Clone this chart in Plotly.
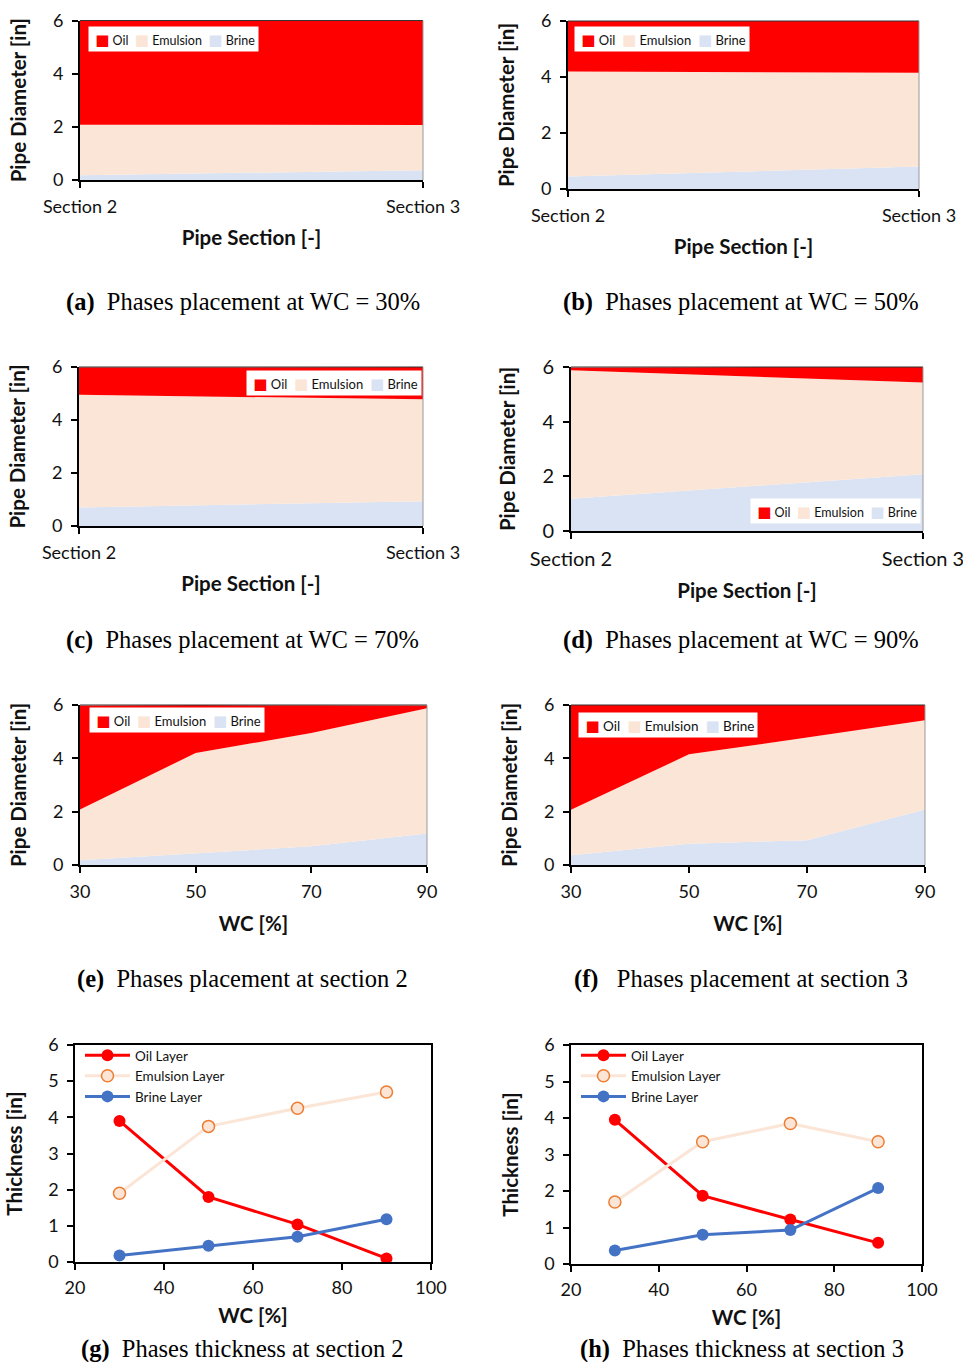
import plotly.graph_objects as go

W, H = 963, 1362

SECTIONS = ["Section 2", "Section 3"]
WC = [30, 50, 70, 90]

# Layer thickness [in] against water cut, at pipe section 2
OIL_S2 = [3.90, 1.80, 1.04, 0.10]
EMUL_S2 = [1.90, 3.75, 4.25, 4.70]
BRINE_S2 = [0.18, 0.45, 0.70, 1.18]

# Layer thickness [in] against water cut, at pipe section 3
OIL_S3 = [3.95, 1.87, 1.22, 0.58]
EMUL_S3 = [1.70, 3.35, 3.85, 3.35]
BRINE_S3 = [0.37, 0.80, 0.93, 2.08]

C_OIL = "#FF0000"
C_EMUL = "#FBE5D6"
C_BRINE = "#DAE3F3"
C_EMUL_EDGE = "#ED7D31"
C_BRINE_LINE = "#4472C4"
INK = "#111111"

SANS = "Lato, 'DejaVu Sans', sans-serif"
SERIF = "'Liberation Serif', 'Times New Roman', serif"

# plot areas in pixels: left, right, top, bottom
BOXES = [
    (80, 423, 20.5, 180),
    (568, 919, 21, 189),
    (79, 423, 367, 526),
    (571, 923, 367, 531),
    (80, 427, 705, 865),
    (571, 925, 705, 865),
    (75, 431, 1045, 1262),
    (571, 922, 1045, 1264),
]
TICK_SIZES = [18, 18, 18, 20, 18, 18, 18, 18]

# stacked-area legend boxes: left px, top px, font size
AREA_LEGENDS = [
    (88, 26, 12.5),
    (574, 26, 13),
    (246, 370, 13),
    (750, 498, 12.5),
    (89, 707, 13),
    (578, 712, 13.5),
]

CAPTIONS = [
    ("(a)", "Phases placement at WC = 30%", 243, 302),
    ("(b)", "Phases placement at WC = 50%", 741, 302),
    ("(c)", "Phases placement at WC = 70%", 243, 640),
    ("(d)", "Phases placement at WC = 90%", 741, 640),
    ("(e)", "Phases placement at section 2", 243, 979),
    ("(f)", "\u00a0Phases placement at section 3", 741, 979),
    ("(g)", "Phases thickness at section 2", 243, 1349),
    ("(h)", "Phases thickness at section 3", 742, 1349),
]

fig = go.Figure()
layout = dict(
    width=W, height=H,
    margin=dict(l=0, r=0, t=0, b=0, autoexpand=False),
    paper_bgcolor="white", plot_bgcolor="white",
    font=dict(family=SANS, color=INK),
    annotations=[], shapes=[],
)


def ax_names(k):
    sfx = "" if k == 1 else str(k)
    return "x" + sfx, "y" + sfx, "xaxis" + sfx, "yaxis" + sfx


def add_stack(k, x, brine, emul, oil):
    xa, ya, _, _ = ax_names(k)
    for name, vals, color in (("Brine", brine, C_BRINE),
                              ("Emulsion", emul, C_EMUL),
                              ("Oil", oil, C_OIL)):
        fig.add_trace(go.Scatter(
            x=x, y=vals, name=name, mode="lines",
            line=dict(width=0, color=color), fillcolor=color,
            stackgroup=f"s{k}", xaxis=xa, yaxis=ya,
            showlegend=False, hoverinfo="skip",
        ))


# (a)-(d): layers along the pipe for each water cut
for i in range(4):
    add_stack(i + 1, SECTIONS,
              [BRINE_S2[i], BRINE_S3[i]],
              [EMUL_S2[i], EMUL_S3[i]],
              [OIL_S2[i], OIL_S3[i]])

# (e)-(f): layers against water cut at each section
add_stack(5, WC, BRINE_S2, EMUL_S2, OIL_S2)
add_stack(6, WC, BRINE_S3, EMUL_S3, OIL_S3)

# (g)-(h): layer thickness lines
for k, legend_id, oil, emul, brine in ((7, "legend", OIL_S2, EMUL_S2, BRINE_S2),
                                       (8, "legend2", OIL_S3, EMUL_S3, BRINE_S3)):
    xa, ya, _, _ = ax_names(k)
    fig.add_trace(go.Scatter(
        x=WC, y=oil, name="Oil Layer", mode="lines+markers",
        line=dict(color=C_OIL, width=3),
        marker=dict(size=12, color=C_OIL),
        xaxis=xa, yaxis=ya, legend=legend_id))
    fig.add_trace(go.Scatter(
        x=WC, y=emul, name="Emulsion Layer", mode="lines+markers",
        line=dict(color=C_EMUL, width=3),
        marker=dict(size=12, color=C_EMUL, line=dict(color=C_EMUL_EDGE, width=1.5)),
        xaxis=xa, yaxis=ya, legend=legend_id))
    fig.add_trace(go.Scatter(
        x=WC, y=brine, name="Brine Layer", mode="lines+markers",
        line=dict(color=C_BRINE_LINE, width=3),
        marker=dict(size=12, color=C_BRINE_LINE),
        xaxis=xa, yaxis=ya, legend=legend_id))

title_font = dict(family=SANS, size=20.5, color=INK)

for k, (x0, x1, y0, y1) in enumerate(BOXES, start=1):
    xa, ya, xkey, ykey = ax_names(k)
    tick_font = dict(family=SANS, size=TICK_SIZES[k - 1], color=INK)
    xdef = dict(
        domain=[x0 / W, x1 / W], anchor=ya, automargin=False,
        showline=True, linecolor="black", linewidth=2,
        ticks="outside", ticklen=6, tickwidth=1.5, tickcolor="black",
        showgrid=False, zeroline=False, tickfont=tick_font,
        ticklabelstandoff=3, fixedrange=True,
    )
    ydef = dict(
        domain=[1 - y1 / H, 1 - y0 / H], anchor=xa, automargin=False,
        showline=True, linecolor="black", linewidth=2,
        ticks="outside", ticklen=6, tickwidth=1.5, tickcolor="black",
        showgrid=False, zeroline=False, tickfont=tick_font,
        ticklabelstandoff=5, range=[0, 6], fixedrange=True,
    )
    if k <= 4:
        xdef.update(type="category", range=[0, 1],
                    title=dict(text="<b>Pipe Section [-]</b>", font=title_font, standoff=15))
    elif k <= 6:
        xdef.update(range=[30, 90], tickvals=WC,
                    title=dict(text="<b>WC [%]</b>", font=title_font, standoff=16))
    else:
        xdef.update(range=[20, 100], dtick=20, mirror=True, linewidth=1.5,
                    title=dict(text="<b>WC [%]</b>", font=title_font, standoff=11))
    if k <= 6:
        ydef.update(dtick=2,
                    title=dict(text="<b>Pipe Diameter [in]</b>", font=title_font, standoff=21))
        # thin frame on the top and right of the area panels
        layout["shapes"].append(dict(type="line", xref=f"{xa} domain", yref=f"{ya} domain",
                                     x0=0, x1=1, y0=1, y1=1,
                                     line=dict(color="#333333", width=1)))
        layout["shapes"].append(dict(type="line", xref=f"{xa} domain", yref=f"{ya} domain",
                                     x0=1, x1=1, y0=0, y1=1,
                                     line=dict(color="#999999", width=1)))
    else:
        ydef.update(dtick=1, mirror=True, linewidth=1.5,
                    title=dict(text="<b>Thickness [in]</b>", font=title_font, standoff=20))
    layout[xkey] = xdef
    layout[ykey] = ydef


def swatch(color):
    return f'<span style="color:{color};font-size:15px">\u25A0</span>'


for (lx, ly, fs) in AREA_LEGENDS:
    text = ("\u00a0" + swatch(C_OIL) + "\u00a0Oil\u00a0\u00a0"
            + swatch(C_EMUL) + "\u00a0Emulsion\u00a0\u00a0"
            + swatch(C_BRINE) + "\u00a0Brine")
    layout["annotations"].append(dict(
        x=lx / W, y=1 - ly / H, xref="paper", yref="paper",
        xanchor="left", yanchor="top", showarrow=False,
        text=text, bgcolor="white", borderpad=3,
        font=dict(family=SANS, size=fs, color=INK), align="left",
    ))

for tag, text, cx, cy in CAPTIONS:
    layout["annotations"].append(dict(
        x=cx / W, y=1 - cy / H, xref="paper", yref="paper",
        xanchor="center", yanchor="middle", showarrow=False,
        text=f"<b>{tag}</b>\u00a0\u00a0{text}",
        font=dict(family=SERIF, size=24.5, color="black"),
    ))

line_legend = dict(
    xanchor="left", yanchor="top", bgcolor="rgba(0,0,0,0)",
    font=dict(family=SANS, size=13.5, color=INK),
    tracegroupgap=0, itemwidth=45, traceorder="normal",
)
layout["legend"] = dict(line_legend, x=80 / W, y=1 - 1040 / H)
layout["legend2"] = dict(line_legend, x=576 / W, y=1 - 1040 / H)

fig.update_layout(**layout)
fig.write_html("out.html")
